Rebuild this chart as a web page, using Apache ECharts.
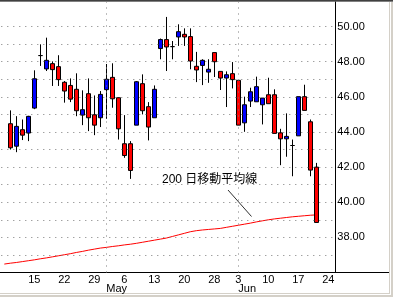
<!DOCTYPE html>
<html><head><meta charset="utf-8">
<script src="https://cdn.jsdelivr.net/npm/echarts@6/dist/echarts.min.js"></script>
<style>html,body{margin:0;padding:0;background:#fff}#c{width:393px;height:297px}</style>
</head><body><div id="c"></div>
<script>
// Trading days (2013)
const dates = ['4/8','4/9','4/10','4/11','4/12','4/15','4/16','4/17','4/18','4/19','4/22','4/23','4/24','4/25','4/26','4/29','4/30',
  '5/1','5/2','5/3','5/6','5/7','5/8','5/9','5/10','5/13','5/14','5/15','5/16','5/17','5/20','5/21','5/22','5/23','5/24','5/28','5/29','5/30','5/31',
  '6/3','6/4','6/5','6/6','6/7','6/10','6/11','6/12','6/13','6/14','6/17','6/18','6/19','6/20','6/21','6/24','6/25'];
const opens = [null,44.47,43.19,44.13,43.94,45.36,48.35,47.59,47.89,47.72,46.83,46.65,46.43,44.96,46.18,44.98,44.81,
  46.41,47.11,45.95,43.33,43.33,44.39,46.75,45.44,44.81,48.75,49.26,48.86,49.41,49.56,49.43,47.74,47.79,47.41,48.52,47.45,47.07,47.32,
  46.94,44.52,45.76,45.72,45.55,46.12,46.12,43.95,43.61,43.23,43.78,46.01,44.58,42.00,null,null,null];
const closes = [null,43.10,44.32,43.82,44.89,47.03,48.35,48.08,47.55,46.98,46.33,45.87,45.21,45.27,44.81,44.39,46.14,
  47.00,45.89,44.18,42.66,41.81,46.86,45.21,44.28,46.43,49.26,48.84,48.86,49.71,49.41,48.04,47.53,48.08,47.57,48.00,47.07,47.26,46.98,
  44.39,45.55,46.29,46.58,45.93,45.61,43.92,43.61,43.75,43.23,46.01,45.23,41.83,38.85,null,null,null];
const lows = [null,43.00,42.85,43.54,43.48,45.30,47.76,47.47,46.62,46.62,45.67,45.70,44.90,44.39,44.05,43.82,44.28,
  44.75,45.38,43.57,42.53,41.33,44.39,45.00,43.52,44.81,48.14,47.47,48.14,48.90,48.90,47.57,46.84,46.67,46.80,47.13,46.39,45.42,46.48,
  44.39,44.01,45.42,45.72,44.43,45.61,43.92,42.11,42.59,41.48,43.78,45.23,41.48,38.85,null,null,null];
const highs = [null,45.23,44.90,44.71,44.92,47.51,48.99,49.37,48.02,48.37,46.90,47.05,47.34,46.37,47.05,46.08,46.33,
  47.87,47.91,45.97,44.96,43.48,46.90,47.28,45.70,46.65,49.32,50.55,49.18,50.13,49.90,49.90,48.56,48.14,48.14,48.52,47.45,47.45,47.98,
  46.94,46.01,46.52,47.15,45.93,47.09,46.43,44.18,45.06,43.57,46.01,46.69,44.71,42.24,null,null,null];
const ma200 = [36.48,36.53,36.57,36.62,36.67,36.72,36.78,36.83,36.89,36.95,37.01,37.07,37.14,37.20,37.27,37.33,37.39,
  37.43,37.48,37.52,37.57,37.61,37.66,37.72,37.78,37.84,37.90,37.96,38.05,38.14,38.23,38.32,38.38,38.42,38.45,38.48,38.51,38.57,38.63,
  38.69,38.75,38.81,38.88,38.94,39.00,39.05,39.09,39.13,39.17,39.20,39.23,39.26,39.28,null,null,null];
const xTickDates = ['4/15','4/22','4/29','5/6','5/13','5/20','5/28','6/3','6/10','6/17','6/24'];
const monthStarts = ['5/1','6/3'];
const monthLabels = ['May','Jun'];
const yGridValues = [37,38,39,40,41,42,43,44,45,46,47,48,49,50];
const yLabelValues = [38,40,42,44,46,48,50];
const maLabel = '200 日移動平均線';

const candleData = dates.map((d, i) => opens[i] == null ? '-' : [opens[i], closes[i], lows[i], highs[i]]);
const FONT = '"Liberation Sans", Arial, sans-serif';
const dotted = {type: [1, 5], color: '#7a7a7a', width: 1, opacity: 1};

const chart = echarts.init(document.getElementById('c'), null, {renderer: 'canvas'});
chart.setOption({
  animation: false,
  backgroundColor: '#fff',
  grid: {left: 1.3, right: 55.7, top: 2, bottom: 24.5, containLabel: false},
  xAxis: [{
    type: 'category', data: dates, boundaryGap: true,
    axisLine: {show: true, lineStyle: {color: '#000', width: 1}},
    axisTick: {show: false}, splitLine: {show: false},
    axisLabel: {
      interval: (i, v) => xTickDates.includes(v),
      formatter: v => v.split('/')[1],
      color: '#000', fontSize: 11, fontFamily: FONT, margin: 2
    }
  }, {
    type: 'category', data: dates, boundaryGap: true, position: 'bottom',
    axisLine: {show: false}, axisTick: {show: false}, splitLine: {show: false},
    axisLabel: {
      interval: (i, v) => monthStarts.includes(v),
      formatter: v => monthLabels[monthStarts.indexOf(v)] || '',
      align: 'left', color: '#000', fontSize: 11, fontFamily: FONT, margin: 11
    }
  }],
  yAxis: {
    type: 'value', position: 'right', min: 36, max: 51.4, interval: 1, offset: -2,
    axisLine: {show: true, lineStyle: {color: '#000', width: 1}},
    axisTick: {show: false}, splitLine: {show: false},
    axisLabel: {
      formatter: v => yLabelValues.includes(v) ? v.toFixed(2) : '',
      color: '#000', fontSize: 11, fontFamily: FONT, margin: 2
    }
  },
  series: [{
    type: 'line', data: yGridValues.map(() => '-'), symbol: 'none', z: 0, silent: true,
    markLine: {
      silent: true, symbol: ['none', 'none'], label: {show: false}, animation: false,
      lineStyle: dotted,
      data: yGridValues.map(v => ({yAxis: v})).concat(monthStarts.map(m => ({xAxis: m})))
    }
  }, {
    type: 'line', data: ma200, symbol: 'none', z: 1,
    lineStyle: {color: '#ff0000', width: 1}
  }, {
    type: 'candlestick', data: candleData, barWidth: 4, z: 3,
    itemStyle: {color: '#0000ff', color0: '#ff0000', borderColor: '#000', borderColor0: '#000', borderWidth: 1}
  }],
  graphic: [
    {type: 'rect', shape: {x: 0, y: 0, width: 393, height: 1}, style: {fill: '#404040'}},
    {type: 'rect', shape: {x: 0, y: 1, width: 393, height: 1}, style: {fill: '#808080'}},
    {type: 'rect', shape: {x: 389, y: 2, width: 1, height: 292}, style: {fill: '#d4d0c8'}},
    {type: 'rect', shape: {x: 391, y: 2, width: 2, height: 295}, style: {fill: '#d4d0c8'}},
    {type: 'rect', shape: {x: 0, y: 293, width: 390, height: 1}, style: {fill: '#d4d0c8'}},
    {type: 'rect', shape: {x: 0, y: 295, width: 393, height: 2}, style: {fill: '#d4d0c8'}},
    {type: 'line', shape: {x1: 0, y1: 272.5, x2: 389, y2: 272.5}, style: {stroke: '#000', lineWidth: 1}},
    {type: 'text', left: 162, top: 174, style: {text: maLabel, font: '12px "Liberation Sans", "Noto Sans CJK JP"', fill: '#000'}},
    {type: 'line', shape: {x1: 228, y1: 190, x2: 251.5, y2: 216.5}, style: {stroke: '#303030', lineWidth: 1}}
  ]
});
</script></body></html>
